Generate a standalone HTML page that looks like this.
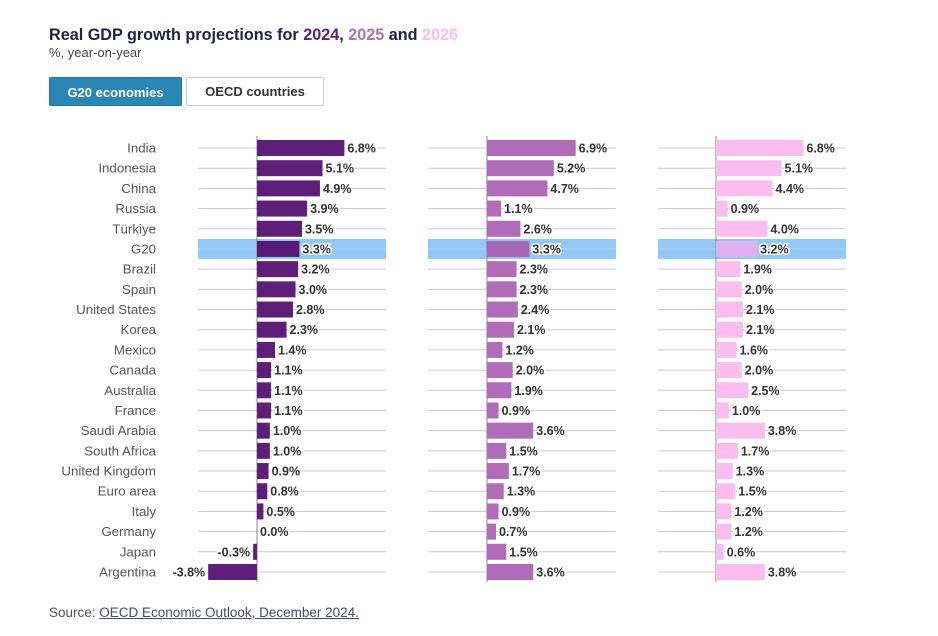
<!DOCTYPE html>
<html><head><meta charset="utf-8"><style>
body{margin:0;background:#fff;width:938px;height:636px;overflow:hidden;font-family:"Liberation Sans",sans-serif}
.t{position:absolute;left:49px;top:26px;font-size:16.2px;font-weight:bold;color:#1d2348}
.s{position:absolute;left:49px;top:45px;font-size:13px;color:#444}
.b1{position:absolute;left:49px;top:77px;width:133px;height:29px;background:#2a87b4;border:1px solid #1f77a3;border-radius:2px;color:#fff;font-size:13px;font-weight:bold;text-align:center;line-height:29px;box-sizing:border-box}
.b2{position:absolute;left:186px;top:77px;width:138px;height:29px;background:#fff;border:1px solid #ccc;border-radius:2px;color:#333;font-size:13px;font-weight:bold;text-align:center;line-height:27px;box-sizing:border-box}
.src{position:absolute;left:49px;top:605px;font-size:13.5px;color:#555}
.src u{color:#3a4a7a}
svg{position:absolute;left:0;top:0}
</style></head><body>
<div class="t">Real GDP growth projections for <span style="color:#5c1f7a">2024</span>, <span style="color:#b36fb9">2025</span> and <span style="color:#fbbcf0">2026</span></div>
<div class="s">%, year-on-year</div>
<div class="b1">G20 economies</div><div class="b2">OECD countries</div>
<svg id="c" width="938" height="636" xmlns="http://www.w3.org/2000/svg"></svg>
<div class="src">Source: <u>OECD Economic Outlook, December 2024.</u></div>
<script>
const names=["India","Indonesia","China","Russia","Türkiye","G20","Brazil","Spain","United States","Korea","Mexico","Canada","Australia","France","Saudi Arabia","South Africa","United Kingdom","Euro area","Italy","Germany","Japan","Argentina"];
const d=[[6.8,5.1,4.9,3.9,3.5,3.3,3.2,3.0,2.8,2.3,1.4,1.1,1.1,1.1,1.0,1.0,0.9,0.8,0.5,0.0,-0.3,-3.8],
[6.9,5.2,4.7,1.1,2.6,3.3,2.3,2.3,2.4,2.1,1.2,2.0,1.9,0.9,3.6,1.5,1.7,1.3,0.9,0.7,1.5,3.6],
[6.8,5.1,4.4,0.9,4.0,3.2,1.9,2.0,2.1,2.1,1.6,2.0,2.5,1.0,3.8,1.7,1.3,1.5,1.2,1.2,0.6,3.8]];
const cols=["#5f1f78","#b06cb8","#fbbcf0"],hcols=["#551a78","#a766b8","#dfb0ee"];
const z=[257,487,716],g=[[198,386],[428,616],[658,846]],k=12.85;
let s="";
const y0=148,st=424/21;
for(let p=0;p<3;p++){
 s+=`<rect x="${g[p][0]}" y="239" width="${g[p][1]-g[p][0]}" height="20" fill="#90c8f8"/>`;
 for(let i=0;i<22;i++){const y=y0+i*st;s+=`<line x1="${g[p][0]}" x2="${g[p][1]}" y1="${y}" y2="${y}" stroke="#c5ccd8" stroke-width="1"/>`;}
 s+=`<line x1="${z[p]}" x2="${z[p]}" y1="136" y2="582" stroke="#888" stroke-width="1"/>`;
 for(let i=0;i<22;i++){const y=y0+i*st,v=d[p][i],w=Math.abs(v)*k,x=v<0?z[p]-w:z[p];
  s+=`<rect x="${x}" y="${y-8}" width="${w}" height="16" fill="${i==5?hcols[p]:cols[p]}"/>`;
  const lab=v.toFixed(1)+"%";
  if(v<0)s+=`<text x="${x-3}" y="${y+4.5}" text-anchor="end" font-size="12.5" font-weight="bold" fill="#333" stroke="#fff" stroke-width="3" paint-order="stroke">${lab}</text>`;
  else s+=`<text x="${z[p]+w+3}" y="${y+4.5}" font-size="12.5" font-weight="bold" fill="#333" stroke="#fff" stroke-width="3" paint-order="stroke">${lab}</text>`;
 }
}
for(let i=0;i<22;i++){s+=`<text x="156" y="${y0+i*st+4.5}" text-anchor="end" font-size="13.3" fill="#555">${names[i]}</text>`;}
document.getElementById("c").innerHTML=s;
</script>
</body></html>
